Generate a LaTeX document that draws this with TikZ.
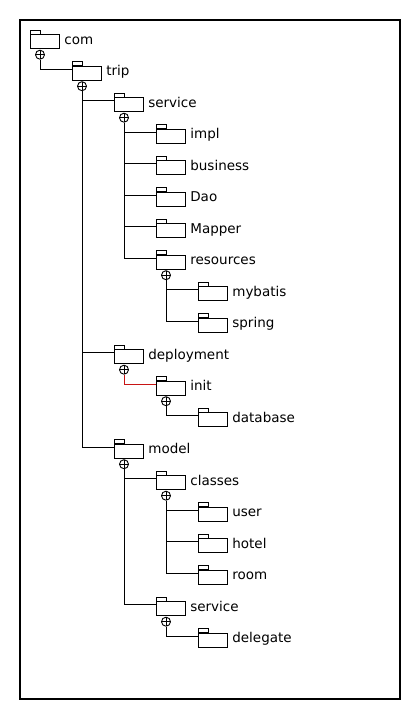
\documentclass[tikz,border=0pt]{standalone}
\usepackage{fontspec}
\setmainfont{DejaVu Sans}
\usetikzlibrary{positioning,calc}
\definecolor{linkred}{RGB}{200,20,20}

\tikzset{
  folder/.style={draw, rectangle, minimum width=28.5pt, minimum height=14pt, inner sep=0pt, anchor=north west},
  pkgname/.style={anchor=mid west, inner sep=0pt, xshift=4.5pt, font=\fontsize{13.5}{16}\selectfont},
  expand/.style={draw, circle, minimum size=9pt, inner sep=0pt,
    path picture={\draw (path picture bounding box.north) -- (path picture bounding box.south)
                        (path picture bounding box.west) -- (path picture bounding box.east);}}
}

\begin{document}
\begin{tikzpicture}[x=1pt, y=1pt, line width=0.9pt]
    \useasboundingbox (0,0) rectangle (420,-720);
    \draw [line width=1.1pt] (20,-20) rectangle (400,-699);

    % Packages: name/level/row/text
    \foreach \n/\l/\r/\t in {com/0/0/com, trip/1/1/trip, svc/2/2/service, impl/3/3/impl, business/3/4/business, Dao/3/5/Dao, Mapper/3/6/Mapper, resources/3/7/resources, mybatis/4/8/mybatis, spring/4/9/spring, deployment/2/10/deployment, init/3/11/init, database/4/12/database, model/2/13/model, classes/3/14/classes, user/4/15/user, hotel/4/16/hotel, room/4/17/room, msvc/3/18/service, delegate/4/19/delegate} {
        \node[folder] (\n) at ({30+42*\l},{-34.3-31.5*\r}) {};
        \draw (\n.north west) rectangle ++(10,4);
        \node[pkgname] (\n-name) at (\n.east) {\t};
    }

    % Expand markers
    \foreach \n in {com, trip, svc, resources, deployment, init, model, classes, msvc} {
        \node[expand] (\n-plus) at ($(\n.south west)+(10,-5.5)$) {};
    }

    % Links
    \foreach \p/\c in {com/trip, trip/svc, trip/deployment, trip/model, svc/impl, svc/business, svc/Dao, svc/Mapper, svc/resources, resources/mybatis, resources/spring, init/database, model/classes, model/msvc, classes/user, classes/hotel, classes/room, msvc/delegate} {
        \draw (\p-plus.south) |- ([yshift=-3.5pt]\c.north west);
    }
    \draw [linkred] (deployment-plus.south) |- ([yshift=-3.5pt]init.north west);
\end{tikzpicture}
\end{document}
